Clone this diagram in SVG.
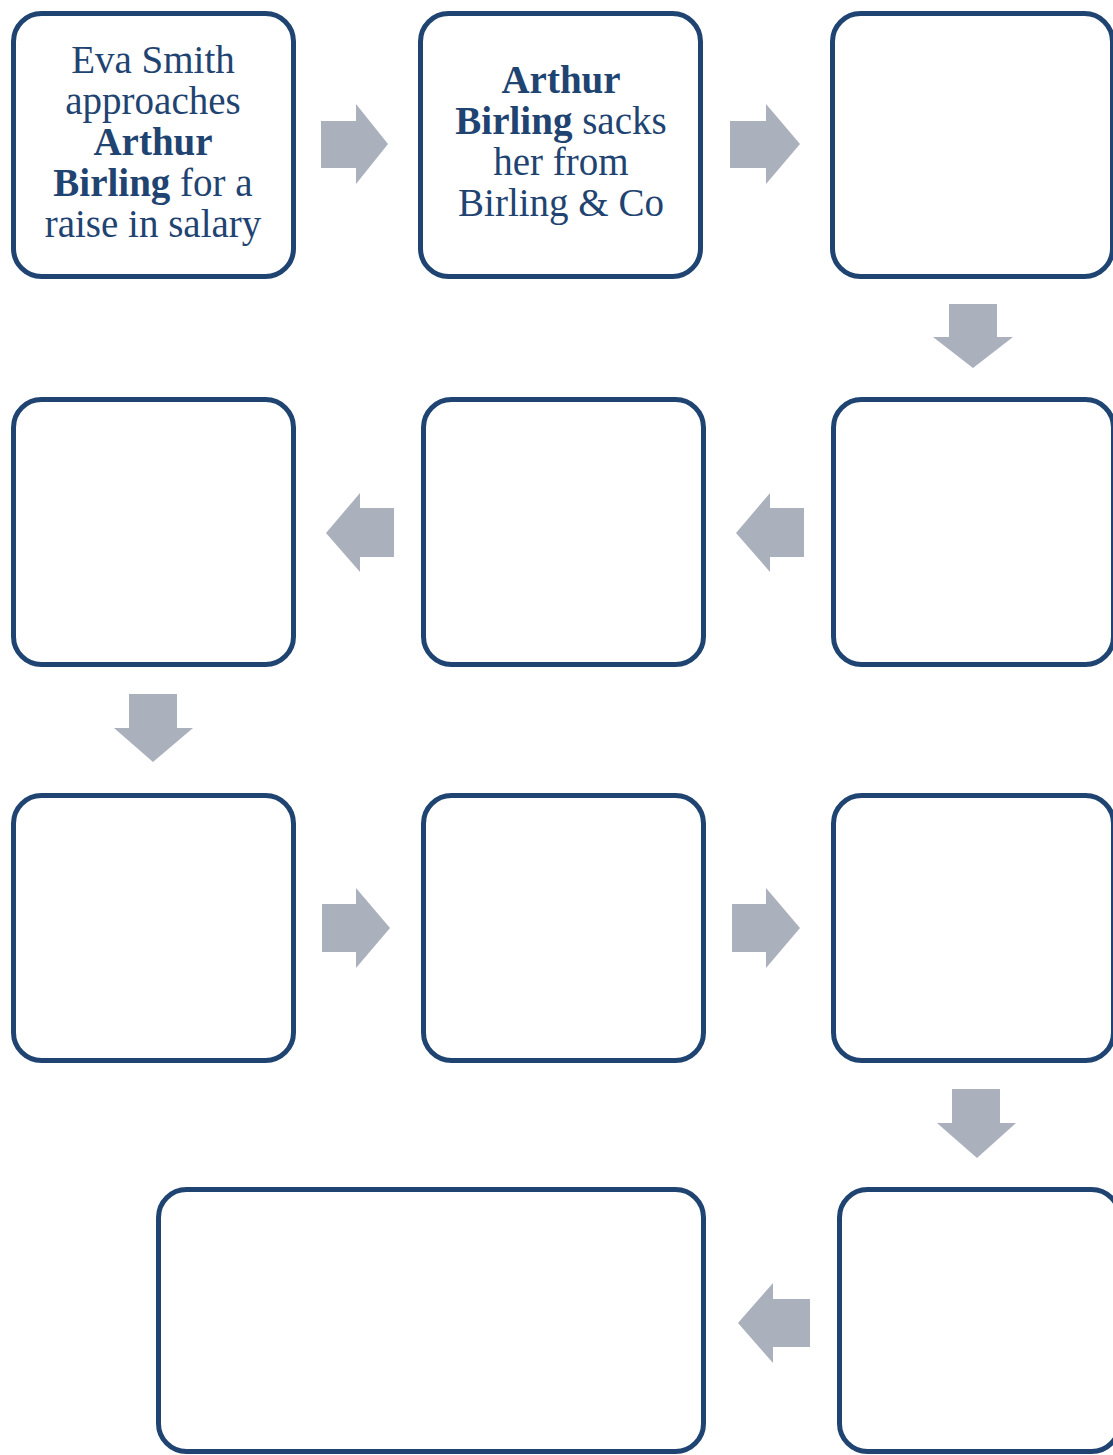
<svg xmlns="http://www.w3.org/2000/svg" width="1113" height="1455" viewBox="0 0 1113 1455">
  <style>
    .box { fill: #ffffff; stroke: #1f4471; stroke-width: 5; }
    .arrow { fill: #abb0bd; }
    .label { font-family: "Liberation Serif", "Times New Roman", serif; font-size: 39px; fill: #1f4471; text-anchor: middle; }
    .strong { font-weight: bold; }
  </style>
  <rect width="1113" height="1455" fill="#ffffff"/>

  <!-- connectors: block arrows between the steps -->
  <g id="connectors">
    <!-- row 1, rightwards -->
    <polygon class="arrow" points="321,121 356,121 356,104 388,144 356,184 356,168 321,168"/>
    <polygon class="arrow" points="730,121 766,121 766,104 800,144 766,184 766,168 730,168"/>
    <!-- row 1 to row 2, downwards -->
    <polygon class="arrow" points="949,304 997,304 997,337 1013,337 973,368 933,337 949,337"/>
    <!-- row 2, leftwards -->
    <polygon class="arrow" points="804,508 770,508 770,493 736,533 770,572 770,557 804,557"/>
    <polygon class="arrow" points="394,508 360,508 360,493 326,533 360,572 360,557 394,557"/>
    <!-- row 2 to row 3, downwards -->
    <polygon class="arrow" points="129,694 177,694 177,728 193,728 153,762 114,728 129,728"/>
    <!-- row 3, rightwards -->
    <polygon class="arrow" points="322,904 356,904 356,888 390,928 356,968 356,952 322,952"/>
    <polygon class="arrow" points="732,904 766,904 766,888 800,928 766,968 766,952 732,952"/>
    <!-- row 3 to row 4, downwards -->
    <polygon class="arrow" points="952,1089 1000,1089 1000,1123 1016,1123 977,1158 937,1123 952,1123"/>
    <!-- row 4, leftwards -->
    <polygon class="arrow" points="810,1299 773,1299 773,1283 738,1323 773,1363 773,1347 810,1347"/>
  </g>

  <!-- row 1 -->
  <g id="step1">
    <rect class="box" x="13.5" y="13.5" width="280" height="263" rx="28"/>
    <text class="label" x="153" y="73">Eva Smith</text>
    <text class="label" x="153" y="114">approaches</text>
    <text class="label strong" x="153" y="155">Arthur</text>
    <text class="label" x="153" y="196"><tspan class="strong">Birling</tspan> for a</text>
    <text class="label" x="153" y="237">raise in salary</text>
  </g>
  <g id="step2">
    <rect class="box" x="420.5" y="13.5" width="280" height="263" rx="28"/>
    <text class="label strong" x="561" y="93">Arthur</text>
    <text class="label" x="561" y="134"><tspan class="strong">Birling</tspan> sacks</text>
    <text class="label" x="561" y="175">her from</text>
    <text class="label" x="561" y="216">Birling &amp; Co</text>
  </g>
  <g id="step3">
    <rect class="box" x="832.5" y="13.5" width="280" height="263" rx="28"/>
  </g>

  <!-- row 2 -->
  <g id="step4">
    <rect class="box" x="833.5" y="399.5" width="280" height="265" rx="28"/>
  </g>
  <g id="step5">
    <rect class="box" x="423.5" y="399.5" width="280" height="265" rx="28"/>
  </g>
  <g id="step6">
    <rect class="box" x="13.5" y="399.5" width="280" height="265" rx="28"/>
  </g>

  <!-- row 3 -->
  <g id="step7">
    <rect class="box" x="13.5" y="795.5" width="280" height="265" rx="28"/>
  </g>
  <g id="step8">
    <rect class="box" x="423.5" y="795.5" width="280" height="265" rx="28"/>
  </g>
  <g id="step9">
    <rect class="box" x="833.5" y="795.5" width="280" height="265" rx="28"/>
  </g>

  <!-- row 4 -->
  <g id="step10">
    <rect class="box" x="839.5" y="1189.5" width="280" height="262" rx="28"/>
  </g>
  <g id="step11">
    <rect class="box" x="158.5" y="1189.5" width="545" height="262" rx="28"/>
  </g>
</svg>
